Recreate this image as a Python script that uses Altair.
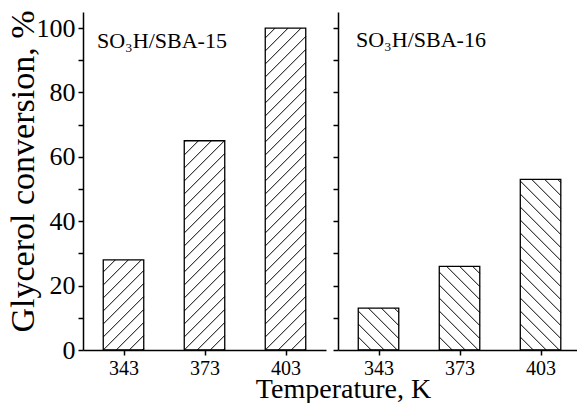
import altair as alt
import pandas as pd
import numpy as np

# ---- data ----
temps = [343, 373, 403]
sba15 = [28, 65, 100]
sba16 = [13, 26, 53]
panel_labels = ["SO\u2083H/SBA-15", "SO\u2083H/SBA-16"]
y_tick_values = [0, 10, 20, 30, 40, 50, 60, 70, 80, 90, 100]
x_title = "Temperature, K"
y_title = "Glycerol conversion, %"

# ---- layout / style ----
FONT = "Liberation Serif"
Y_MAX = 105
X_DOM_L = [328, 418]
X_DOM_R = [328, 416.5]
W_L, W_R, H = 243, 239, 338
HALF = 7.5          # half bar width in K
STEP = 13.0         # hatch spacing (px, vertical)


def hatch(vals, direction, width_px, xdom):
    sx = width_px / (xdom[1] - xdom[0])
    sy = H / Y_MAX
    rows = []
    for t, v in zip(temps, vals):
        x0 = t - HALF
        W = 2 * HALF * sx
        Hh = v * sy
        if direction == "/":
            k = int(np.floor(-W / STEP))
            while k * STEP < Hh:
                c = k * STEP
                u0 = max(0.0, -c)
                u1 = min(W, Hh - c)
                if u1 > u0:
                    rows.append(dict(x=x0 + u0 / sx, x2=x0 + u1 / sx,
                                     y=(u0 + c) / sy, y2=(u1 + c) / sy))
                k += 1
        else:
            k = 1
            while k * STEP < Hh + W:
                c = k * STEP
                u0 = max(0.0, c - Hh)
                u1 = min(W, c)
                if u1 > u0:
                    rows.append(dict(x=x0 + u0 / sx, x2=x0 + u1 / sx,
                                     y=(c - u0) / sy, y2=(c - u1) / sy))
                k += 1
    return pd.DataFrame(rows)


def panel(vals, label, direction, width, xdom, first):
    df = pd.DataFrame({"T": temps, "v": vals})
    xs = alt.Scale(domain=xdom, nice=False, zero=False)
    ys = alt.Scale(domain=[0, Y_MAX], nice=False, zero=True)
    common = dict(domainColor="black", tickColor="black", labelColor="black",
                  titleColor="black", domainWidth=1.5, tickWidth=1.5, grid=False,
                  labelFont=FONT, titleFont=FONT, titleFontWeight="normal",
                  labelFlush=False, tickSize=5)
    if first:
        xaxis = alt.Axis(values=temps, format="d", labelFontSize=20, labelPadding=3,
                         title=x_title, titleFontSize=28, titleX=260, titleY=47,
                         titleAlign="center", titleBaseline="alphabetic", **common)
        yaxis = alt.Axis(values=y_tick_values,
                         labelExpr="datum.value % 20 == 0 ? datum.label : ''",
                         labelFontSize=26, labelPadding=3, title=y_title,
                         titleFontSize=34, titleX=-50, titleY=159, titleAngle=270,
                         titleAlign="center", titleBaseline="alphabetic", **common)
    else:
        xaxis = alt.Axis(values=temps, format="d", labelFontSize=20, labelPadding=3,
                         title="", **common)
        yaxis = alt.Axis(values=y_tick_values, labels=False, title="", **common)

    base = alt.Chart(df).transform_calculate(
        x0=f"datum.T - {HALF}", x1=f"datum.T + {HALF}", zero="0")
    hdf = hatch(vals, direction, width, xdom)
    lines = alt.Chart(hdf).mark_rule(color="black", strokeWidth=1).encode(
        x=alt.X("x:Q", scale=xs, axis=xaxis), x2="x2:Q",
        y=alt.Y("y:Q", scale=ys, axis=yaxis), y2="y2:Q")
    outline = base.mark_rect(fillOpacity=0, stroke="black", strokeWidth=1.3).encode(
        x=alt.X("x0:Q", scale=xs, axis=xaxis), x2="x1:Q",
        y=alt.Y("v:Q", scale=ys, axis=yaxis), y2="zero:Q")
    txt = alt.Chart(pd.DataFrame({"t": [label]})).mark_text(
        align="left", baseline="alphabetic", fontSize=22, font=FONT, color="black"
    ).encode(x=alt.value(14 if first else 18), y=alt.value(36 if first else 35), text="t:N")
    return alt.layer(lines, outline, txt).properties(width=width, height=H)


left = panel(sba15, panel_labels[0], "/", W_L, X_DOM_L, True)
right = panel(sba16, panel_labels[1], "\\", W_R, X_DOM_R, False)

chart = alt.hconcat(left, right, spacing=12, bounds="flush").properties(
    autosize=alt.AutoSizeParams(type="pad"),
    padding={"left": 5, "top": 10, "right": 0, "bottom": 0},
    background="white",
).configure_view(strokeWidth=0)

chart.save("out.html", embed_options={"renderer": "svg", "actions": False})
